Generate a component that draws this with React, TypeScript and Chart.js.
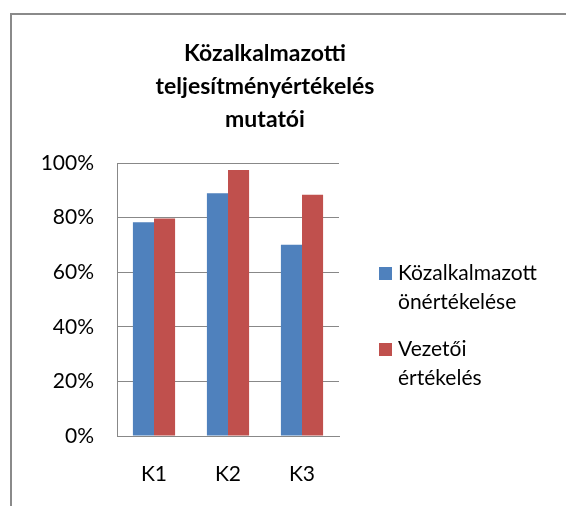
import React, { useEffect, useRef } from "react";
import { Chart, registerables } from "chart.js";

Chart.register(...registerables);

const categories = ["K1", "K2", "K3"];
const seriesNames = [["Közalkalmazott", "önértékelése"], ["Vezetői", "értékelés"]];
const selfValues = [0.783, 0.889, 0.701];
const leaderValues = [0.797, 0.974, 0.884];
const titleLines = ["Közalkalmazotti", "teljesítményértékelés", "mutatói"];
const yTicks = [0, 0.2, 0.4, 0.6, 0.8, 1.0];

const BLUE = "#4F81BD";
const RED = "#C0504D";
const GRID = "#888888";
const FONT = "Lato";

const legendPlugin = {
  id: "sideLegend",
  afterDraw(chart: any) {
    const ctx = chart.ctx;
    const ds = chart.data.datasets;
    ctx.save();
    ctx.font = `21px ${FONT}`;
    ctx.textBaseline = "middle";
    ctx.textAlign = "left";
    const x0 = 369;
    const starts = [273, 349];
    ds.forEach((d: any, i: number) => {
      const y = starts[i];
      ctx.fillStyle = d.backgroundColor;
      ctx.fillRect(x0, y - 6, 13, 13);
      ctx.fillStyle = "#000";
      d.legendLines.forEach((line: string, j: number) => {
        ctx.fillText(line, x0 + 19, y + j * 29.5);
      });
    });
    ctx.restore();
  },
};

export default function App() {
  const ref = useRef<HTMLCanvasElement>(null);
  useEffect(() => {
    if (!ref.current) return;
    const chart = new Chart(ref.current, {
      type: "bar",
      data: {
        labels: categories,
        datasets: [
          { label: seriesNames[0].join(" "), legendLines: seriesNames[0], data: selfValues, backgroundColor: BLUE } as any,
          { label: seriesNames[1].join(" "), legendLines: seriesNames[1], data: leaderValues, backgroundColor: RED } as any,
        ],
      },
      options: {
        animation: false,
        responsive: false,
        layout: { padding: { left: 0, right: 46, top: 0, bottom: 0 } },
        datasets: { bar: { categoryPercentage: 0.57, barPercentage: 1 } },
        plugins: {
          legend: { display: false },
          tooltip: { enabled: false },
          title: {
            display: true,
            text: titleLines,
            color: "#000",
            font: { family: FONT, size: 23, weight: "bold", lineHeight: 33 / 23 },
            padding: { top: 37, bottom: 27 },
          },
        },
        scales: {
          x: {
            grid: { display: false, drawTicks: false },
            border: { display: true, color: GRID, width: 1 },
            ticks: { color: "#000", padding: 26, font: { family: FONT, size: 21 } },
            afterFit: (s: any) => { s.height = 70; },
          },
          y: {
            min: 0,
            max: 1,
            afterBuildTicks: (s: any) => { s.ticks = yTicks.map((v) => ({ value: v })); },
            grid: { color: GRID, drawTicks: false },
            border: { display: true, color: GRID, width: 1 },
            ticks: {
              color: "#000",
              padding: 23,
              font: { family: FONT, size: 21 },
              callback: (v: any) => Math.round(Number(v) * 100) + "%",
            },
            afterFit: (s: any) => { s.width = 107; },
          },
          pad: {
            type: "linear",
            position: "right",
            grid: { display: false },
            border: { display: false },
            ticks: { display: false },
            afterFit: (s: any) => { s.width = 181; },
          },
        },
      } as any,
      plugins: [legendPlugin],
    });
    return () => chart.destroy();
  }, []);

  return (
    <div style={{ position: "fixed", left: 0, top: 0, width: 566, height: 506, background: "#fff", overflow: "hidden" }}>
      <div
        style={{
          position: "absolute",
          left: 10,
          top: 13,
          width: 556,
          height: 493,
          boxSizing: "border-box",
          borderTop: "2px solid #8a8a8a",
          borderLeft: "2px solid #8a8a8a",
        }}
      />
      <canvas ref={ref} width={556} height={506} style={{ position: "absolute", left: 10, top: 0, width: 556, height: 506 }} />
    </div>
  );
}
